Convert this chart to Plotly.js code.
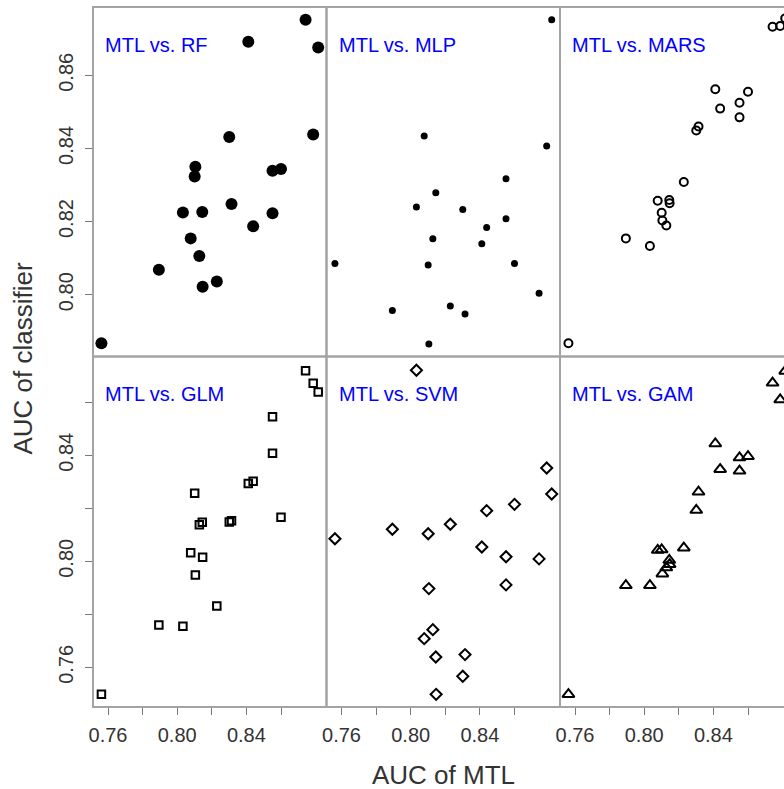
<!DOCTYPE html>
<html>
<head>
<meta charset="utf-8">
<script src="https://cdn.plot.ly/plotly-3.0.1.min.js"></script>
<style>html,body{margin:0;padding:0;background:#fff;}#chart{width:784px;height:789px;}</style>
</head>
<body>
<div id="chart"></div>
<script>
// AUC of MTL for the 20 datasets (shared x for every panel)
const mtlAUC  = [0.7562,0.7894,0.8033,0.8078,0.8101,0.8105,0.8128,0.8145,0.8147,0.8229,0.8301,0.8314,0.8411,0.8439,0.8551,0.8551,0.8600,0.8742,0.8786,0.8815];
// AUC of each competing classifier
const aucRF   = [0.7867,0.8068,0.8225,0.8154,0.8323,0.8350,0.8106,0.8226,0.8022,0.8036,0.8431,0.8248,0.8692,0.8187,0.8223,0.8339,0.8344,0.8752,0.8438,0.8676];
const aucMLP  = [0.8085,0.7957,0.8240,0.8434,0.8081,0.7865,0.8153,0.8279,null,0.7969,0.8233,0.7947,0.8139,0.8184,0.8317,0.8208,0.8085,0.8004,0.8407,0.8752];
const aucMARS = [0.7867,0.8154,0.8133,0.8257,0.8224,0.8203,0.8189,0.8259,0.8250,0.8308,0.8449,0.8460,0.8562,0.8509,0.8525,0.8485,0.8555,0.8733,0.8735,0.8756];
const aucGLM  = [0.7498,0.7760,0.7755,0.8032,0.8257,0.7948,0.8138,0.8147,0.8015,0.7831,0.8148,0.8153,0.8294,0.8302,0.8408,0.8545,0.8166,0.8719,0.8672,0.8639];
const aucSVM  = [0.8085,0.8121,0.8721,0.7708,0.8104,0.7897,0.7742,0.7639,0.7498,0.8140,0.7566,0.7648,0.8054,0.8191,0.8017,0.7911,0.8215,0.8009,0.8352,0.8254];
const aucGAM  = [0.7498,0.7909,0.7909,0.8042,0.8044,0.7953,0.7976,0.8004,0.7988,0.8051,0.8193,0.8262,0.8444,0.8347,0.8391,0.8341,0.8396,0.8673,0.8610,0.8718];

const panelLabels = ['MTL vs. RF','MTL vs. MLP','MTL vs. MARS','MTL vs. GLM','MTL vs. SVM','MTL vs. GAM'];
const xTickVals = [0.76,0.78,0.80,0.82,0.84,0.86];
const xTickText = ['0.76','','0.80','','0.84',''];
const yTopTickVals = [0.80,0.82,0.84,0.86];
const yTopTickText = ['0.80','0.82','0.84','0.86'];
const yBotTickVals = [0.76,0.78,0.80,0.82,0.84,0.86];
const yBotTickText = ['0.76','','0.80','','0.84',''];

const W = 784, H = 789;
const FONT = 'Arial, "Liberation Sans", sans-serif';
const px = v => v / W;
const py = v => 1 - v / H;

// panel geometry (pixels)
const colEdges = [[93,326.5],[326.5,560],[560,784]];
const rowEdges = [[7,356.5],[356.5,707]];
const xRanges = [[0.75133,0.8863],[0.75133,0.8863],[0.75133,0.88081]];
const yRanges = [[0.78309,0.87869],[0.74502,0.87728]];

const series = [aucRF, aucMLP, aucMARS, aucGLM, aucSVM, aucGAM];
const markers = [
  {symbol:'circle', size:12, color:'#000', line:{width:0}},
  {symbol:'circle', size:7, color:'#000', line:{width:0}},
  {symbol:'circle-open', size:8, color:'#000', line:{width:2, color:'#000'}},
  {symbol:'square-open', size:7.5, color:'#000', line:{width:2, color:'#000'}},
  {symbol:'diamond-open', size:8.5, color:'#000', line:{width:2, color:'#000'}},
  {symbol:'triangle-up-open', size:10.5, color:'#000', line:{width:2, color:'#000'}}
];

const traces = [];
const layout = {
  width: W, height: H,
  margin: {l:0, r:0, t:0, b:0},
  paper_bgcolor: '#fff', plot_bgcolor: '#fff',
  showlegend: false,
  font: {family: FONT, color: '#333'},
  shapes: [], annotations: []
};

for (let k = 0; k < 6; k++) {
  const row = Math.floor(k / 3), col = k % 3;
  const n = k + 1;
  const xa = n === 1 ? 'x' : 'x' + n;
  const ya = n === 1 ? 'y' : 'y' + n;
  traces.push({
    type: 'scatter', mode: 'markers',
    x: mtlAUC, y: series[k],
    xaxis: xa, yaxis: ya,
    marker: markers[k],
    cliponaxis: true,
    hoverinfo: 'skip'
  });
  const xKey = n === 1 ? 'xaxis' : 'xaxis' + n;
  const yKey = n === 1 ? 'yaxis' : 'yaxis' + n;
  const ce = colEdges[col], re = rowEdges[row];
  const bottomRow = row === 1;
  layout[xKey] = {
    domain: [px(ce[0]), Math.min(1, px(ce[1]))],
    range: xRanges[col],
    anchor: ya,
    showgrid: false, zeroline: false, showline: false,
    ticks: bottomRow ? 'outside' : '',
    ticklen: 7, tickwidth: 1, tickcolor: '#777',
    tickvals: xTickVals, ticktext: xTickText,
    showticklabels: bottomRow,
    ticklabelstandoff: 3,
    tickfont: {family: FONT, size: 20, color: '#333'},
    fixedrange: true
  };
  layout[yKey] = {
    domain: [py(re[1]), py(re[0])],
    range: yRanges[row],
    anchor: xa,
    showgrid: false, zeroline: false, showline: false,
    ticks: col === 0 ? 'outside' : '',
    ticklen: 7, tickwidth: 1, tickcolor: '#777',
    tickvals: row === 0 ? yTopTickVals : yBotTickVals,
    ticktext: row === 0 ? yTopTickText : yBotTickText,
    showticklabels: col === 0,
    tickangle: -90,
    ticklabelstandoff: 4,
    tickfont: {family: FONT, size: 20, color: '#333'},
    fixedrange: true
  };
  // panel border
  layout.shapes.push({
    type: 'rect', xref: 'paper', yref: 'paper',
    x0: px(ce[0]), x1: px(col === 2 ? 794 : ce[1]),
    y0: py(re[1]), y1: py(re[0]),
    line: {color: '#a3a3a3', width: 2}, fillcolor: 'rgba(0,0,0,0)', layer: 'above'
  });
  // panel label
  layout.annotations.push({
    xref: 'paper', yref: 'paper',
    x: px(ce[0] + 10), y: py(re[0] + 37.5),
    xanchor: 'left', yanchor: 'middle',
    text: panelLabels[k], showarrow: false,
    font: {family: FONT, size: 20, color: '#0000ff'}
  });
}

layout.annotations.push({
  xref: 'paper', yref: 'paper', x: px(443.5), y: py(775),
  xanchor: 'center', yanchor: 'middle', showarrow: false,
  text: 'AUC of MTL', font: {family: FONT, size: 26, color: '#333'}
});
layout.annotations.push({
  xref: 'paper', yref: 'paper', x: px(22.5), y: py(359),
  xanchor: 'center', yanchor: 'middle', showarrow: false, textangle: -90,
  text: 'AUC of classifier', font: {family: FONT, size: 26, color: '#333'}
});

Plotly.newPlot('chart', traces, layout, {staticPlot: true, displayModeBar: false});
</script>
</body>
</html>
